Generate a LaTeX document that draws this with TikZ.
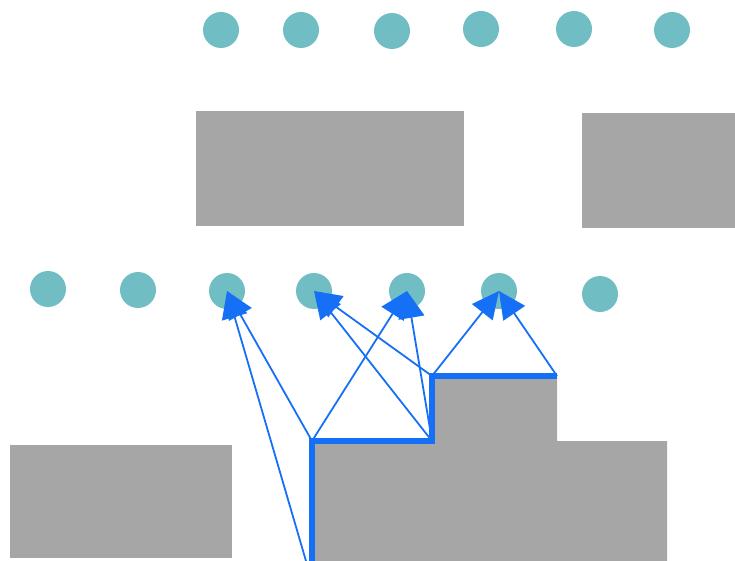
\documentclass[tikz,border=0pt]{standalone}
\usetikzlibrary{arrows.meta}
\definecolor{dotc}{RGB}{112,190,196}
\definecolor{blockc}{RGB}{166,166,166}
\definecolor{rayc}{RGB}{22,112,245}
\tikzset{
  dot/.style={circle, fill=dotc, draw=none, inner sep=0pt, minimum width=35pt, minimum height=36pt},
  block/.style={fill=blockc, draw=none},
  ray/.style={draw=rayc, line width=1.8pt, -{Triangle[length=27pt,width=26pt]}},
  edge/.style={draw=rayc, line width=6.5pt, line join=miter}
}
\begin{document}
\begin{tikzpicture}[x=1pt,y=-1pt]
\useasboundingbox (0,0) rectangle (735,561);
% blocks
\fill[block] (196,111) rectangle (464,226);
\fill[block] (582,113) rectangle (735,228);
\fill[block] (10,445) rectangle (232,558);
\fill[block] (312,561) -- (312,441) -- (432,441) -- (432,376) -- (557,376) -- (557,441) -- (667,441) -- (667,561) -- cycle;
% top row of dots
\node[dot] (t1) at (221,30) {};
\node[dot] (t2) at (301,30) {};
\node[dot] (t3) at (392,31) {};
\node[dot] (t4) at (481,29) {};
\node[dot] (t5) at (574,29) {};
\node[dot] (t6) at (672,30) {};
% middle row of dots
\node[dot] (m1) at (48,289) {};
\node[dot] (m2) at (138,290) {};
\node[dot] (m3) at (227,291) {};
\node[dot] (m4) at (314,291) {};
\node[dot] (m5) at (407,291) {};
\node[dot] (m6) at (499,291) {};
\node[dot] (m7) at (600,294) {};
% corners
\coordinate (b0) at (312,561);
\coordinate (c1) at (312,441);
\coordinate (c2) at (432,441);
\coordinate (c3) at (432,376);
\coordinate (c4) at (557,376);
\coordinate (s0) at (306,561);
% thick edge
\draw[edge] (b0) -- (c1) -- (c2) -- (c3) -- (c4);
% rays
\draw[ray] (s0) -- (m3.center);
\draw[ray] (c1) -- (m3.center);
\draw[ray] (c1) -- (m5.center);
\draw[ray] (c2) -- (m4.center);
\draw[ray] (c2) -- (m5.center);
\draw[ray] (c3) -- (m4.center);
\draw[ray] (c3) -- (m6.center);
\draw[ray] (c4) -- (m6.center);
\end{tikzpicture}
\end{document}
